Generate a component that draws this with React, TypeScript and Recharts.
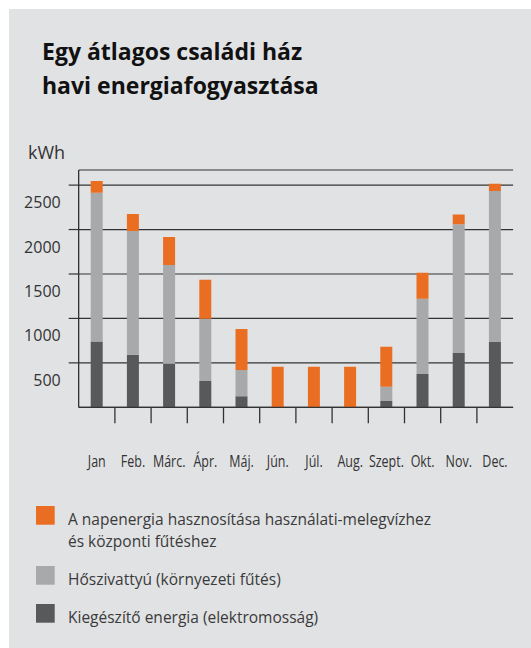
import React from 'react';
import { BarChart, Bar, XAxis, YAxis, CartesianGrid } from 'recharts';

const months = ['Jan', 'Feb.', 'Márc.', 'Ápr.', 'Máj.', 'Jún.', 'Júl.', 'Aug.', 'Szept.', 'Okt.', 'Nov.', 'Dec.'];
const kiegeszito = [740, 590, 490, 295, 125, 0, 0, 0, 70, 375, 610, 735];
const hoszivattyu = [1675, 1395, 1110, 700, 295, 0, 0, 0, 160, 845, 1450, 1700];
const napenergia = [130, 190, 315, 440, 460, 455, 455, 455, 450, 295, 110, 80];
const yTicks = [500, 1000, 1500, 2000, 2500];

const titleLines = ['Egy átlagos családi ház', 'havi energiafogyasztása'];
const unitLabel = 'kWh';
const legendLabels = [
  ['A napenergia hasznosítása használati-melegvízhez', 'és központi fűtéshez'],
  ['Hőszivattyú (környezeti fűtés)'],
  ['Kiegészítő energia (elektromosság)'],
];

const C_ORANGE = '#EA6E21';
const C_GRAY = '#A8A9AB';
const C_DARK = '#58595B';
const C_BG = '#E1E2E4';
const C_LINE = '#333333';
const FONT = '"Open Sans", "Noto Sans", sans-serif';

const data = months.map((m, i) => ({
  month: m,
  kieg: kiegeszito[i],
  hosz: hoszivattyu[i],
  nap: napenergia[i],
}));

const MonthTick = (props: any) => {
  const { x, y, payload, index } = props;
  const off = payload && typeof payload.offset === 'number' ? payload.offset : 18.1;
  return (
    <g>
      {index > 0 && (
        <line x1={x - off} x2={x - off} y1={y} y2={y + 16} stroke={C_LINE} strokeWidth={1.3} />
      )}
      <text
        transform={`translate(${x},${y + 60}) scale(0.78,1)`}
        textAnchor="middle"
        fontFamily={FONT}
        fontSize={16}
        fill="#333"
      >
        {payload.value}
      </text>
    </g>
  );
};

const ValueTick = (props: any) => {
  const { x, y, payload } = props;
  return (
    <text x={x} y={y + 23} textAnchor="end" fontFamily={FONT} fontSize={16} fill="#333">
      {payload.value}
    </text>
  );
};

export default function App() {
  const legendColors = [C_ORANGE, C_GRAY, C_DARK];
  const legendSquareY = [506, 566, 604];
  const legendBaselines = [[525, 546.5], [585], [623]];
  return (
    <div style={{ position: 'absolute', left: 0, top: 0, width: 531, height: 648 }}>
      <div style={{ position: 'absolute', left: 9, top: 9, width: 522, height: 639, background: C_BG }} />
      <div style={{ position: 'absolute', left: 0, top: 0 }}>
        <BarChart
          width={531}
          height={648}
          data={data}
          margin={{ top: 170, right: 17.9, left: 0, bottom: 180.7 }}
        >
          <CartesianGrid horizontal vertical={false} stroke={C_LINE} strokeWidth={1.2} />
          <XAxis
            dataKey="month"
            height={60}
            interval={0}
            tickLine={false}
            tickSize={0}
            tickMargin={0}
            axisLine={{ stroke: C_LINE, strokeWidth: 1.2 }}
            tick={<MonthTick />}
          />
          <YAxis
            type="number"
            domain={[0, 2670]}
            ticks={yTicks}
            width={78.7}
            tickSize={10}
            tickMargin={8}
            tickLine={{ stroke: C_LINE, strokeWidth: 1.2 }}
            axisLine={{ stroke: '#222', strokeWidth: 1.2 }}
            tick={<ValueTick />}
            allowDataOverflow
          />
          <Bar dataKey="kieg" stackId="a" fill={C_DARK} barSize={12} isAnimationActive={false} />
          <Bar dataKey="hosz" stackId="a" fill={C_GRAY} barSize={12} isAnimationActive={false} />
          <Bar dataKey="nap" stackId="a" fill={C_ORANGE} barSize={12} isAnimationActive={false} />
        </BarChart>
      </div>
      <svg
        width={531}
        height={648}
        style={{ position: 'absolute', left: 0, top: 0, pointerEvents: 'none' }}
      >
        {titleLines.map((t, i) => (
          <text key={t} x={42} y={60 + i * 33.5} fontFamily={FONT} fontWeight={700} fontSize={23} fill="#111">
            {t}
          </text>
        ))}
        <text x={28} y={159} fontFamily={FONT} fontSize={18} fill="#333">
          {unitLabel}
        </text>
        {legendLabels.map((lines, i) => (
          <g key={i}>
            <rect x={36} y={legendSquareY[i]} width={18.7} height={18.7} fill={legendColors[i]} />
            {lines.map((ln, j) => (
              <text key={j} x={68} y={legendBaselines[i][j]} fontFamily={FONT} fontSize={15.5} fill="#3a3a3a">
                {ln}
              </text>
            ))}
          </g>
        ))}
      </svg>
    </div>
  );
}
